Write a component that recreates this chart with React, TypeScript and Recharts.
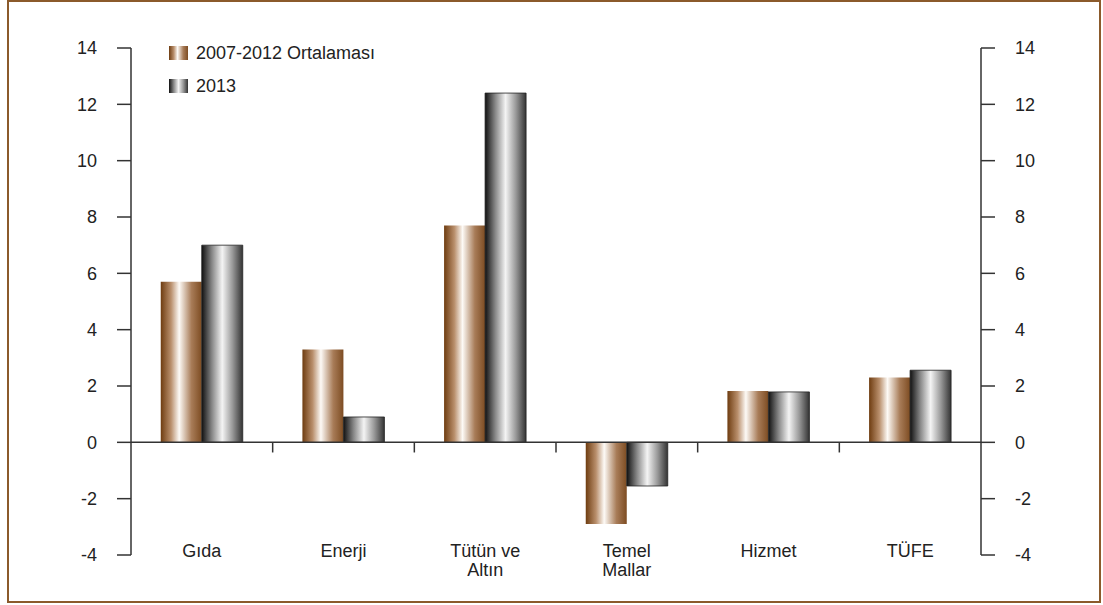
import type { FC } from 'react';
import { BarChart, Bar, XAxis, YAxis, ReferenceLine } from 'recharts';

const categories = ['Gıda', 'Enerji', 'Tütün ve\nAltın', 'Temel\nMallar', 'Hizmet', 'TÜFE'];
const avg2007to2012 = [5.7, 3.3, 7.7, -2.9, 1.82, 2.3];
const values2013 = [7.0, 0.9, 12.4, -1.55, 1.79, 2.56];
const yTicks = [-4, -2, 0, 2, 4, 6, 8, 10, 12, 14];

const seriesNames = ['2007-2012 Ortalaması', '2013'];

const data = categories.map((name, i) => ({
  name,
  avg: avg2007to2012[i],
  y2013: values2013[i],
}));

const FONT = '"Liberation Sans", Arial, sans-serif';
const AXIS = '#333';

interface TickProps {
  x?: number;
  y?: number;
  payload?: { value: string };
}

const CategoryTick: FC<TickProps> = ({ x = 0, y = 0, payload }) => {
  const lines = String(payload?.value ?? '').split('\n');
  return (
    <text x={x} y={y} textAnchor="middle" fontSize={18} fill="#222" fontFamily={FONT}>
      {lines.map((l, i) => (
        <tspan key={i} x={x} dy={i === 0 ? 2 : 19}>
          {l}
        </tspan>
      ))}
    </text>
  );
};

const LegendBox: FC = () => (
  <div
    style={{
      position: 'absolute',
      left: 169,
      top: 42,
      fontFamily: FONT,
      fontSize: 18,
      color: '#222',
      lineHeight: '22px',
    }}
  >
    {seriesNames.map((s, i) => (
      <div key={s} style={{ display: 'flex', alignItems: 'center', marginBottom: 11 }}>
        <span
          style={{
            display: 'inline-block',
            width: 19,
            height: 14,
            marginRight: 8,
            background:
              i === 0
                ? 'linear-gradient(to right, #6e3c10 0%, #b98f6c 25%, #fdfaf6 45%, #a87c58 75%, #7d4c22 100%)'
                : 'linear-gradient(to right, #111 0%, #888 25%, #f4f4f4 50%, #999 75%, #333 100%)',
          }}
        />
        {s}
      </div>
    ))}
  </div>
);

const App: FC = () => {
  return (
    <div style={{ position: 'absolute', left: 0, top: 0, width: 1103, height: 605, background: '#fff' }}>
      <div
        style={{
          position: 'absolute',
          left: 7,
          top: 0,
          width: 1094,
          height: 603,
          border: '2px solid #8b5a2b',
          boxSizing: 'border-box',
        }}
      />
      <div style={{ position: 'absolute', left: 0, top: 0 }}>
        <BarChart
          width={1103}
          height={605}
          data={data}
          margin={{ top: 48, right: 62, bottom: 0, left: 71 }}
          barGap={0}
          barCategoryGap="21%"
        >
          <defs>
            <linearGradient id="brownGrad" x1="0" y1="0" x2="1" y2="0">
              <stop offset="0%" stopColor="#6e3c10" />
              <stop offset="25%" stopColor="#b98f6c" />
              <stop offset="45%" stopColor="#fdfaf6" />
              <stop offset="75%" stopColor="#a87c58" />
              <stop offset="100%" stopColor="#7d4c22" />
            </linearGradient>
            <linearGradient id="grayGrad" x1="0" y1="0" x2="1" y2="0">
              <stop offset="0%" stopColor="#111" />
              <stop offset="25%" stopColor="#888" />
              <stop offset="50%" stopColor="#f4f4f4" />
              <stop offset="75%" stopColor="#999" />
              <stop offset="100%" stopColor="#333" />
            </linearGradient>
          </defs>
          <XAxis
            xAxisId="cat"
            dataKey="name"
            height={50}
            axisLine={false}
            tickLine={false}
            tickSize={0}
            tickMargin={0}
            interval={0}
            tick={<CategoryTick />}
          />
          <YAxis
            yAxisId="left"
            orientation="left"
            width={60}
            domain={[-4, 14]}
            ticks={yTicks}
            interval={0}
            allowDataOverflow
            tickSize={14}
            tickMargin={20}
            axisLine={{ stroke: AXIS, strokeWidth: 1.5 }}
            tickLine={{ stroke: AXIS, strokeWidth: 1.5 }}
            tick={{ fill: '#222', fontSize: 18, fontFamily: FONT }}
          />
          <YAxis
            yAxisId="right"
            orientation="right"
            width={60}
            domain={[-4, 14]}
            ticks={yTicks}
            interval={0}
            allowDataOverflow
            tickSize={14}
            tickMargin={20}
            axisLine={{ stroke: AXIS, strokeWidth: 1.5 }}
            tickLine={{ stroke: AXIS, strokeWidth: 1.5 }}
            tick={{ fill: '#222', fontSize: 18, fontFamily: FONT, textAnchor: 'start' }}
          />
          <Bar
            xAxisId="cat"
            yAxisId="left"
            dataKey="avg"
            name={seriesNames[0]}
            fill="url(#brownGrad)"
            isAnimationActive={false}
          />
          <Bar
            xAxisId="cat"
            yAxisId="left"
            dataKey="y2013"
            name={seriesNames[1]}
            fill="url(#grayGrad)"
            stroke="#222"
            strokeWidth={0.8}
            isAnimationActive={false}
          />
          <ReferenceLine xAxisId="cat" yAxisId="left" y={0} stroke={AXIS} strokeWidth={1.5} />
          {categories.slice(0, -1).map((c) => (
            <ReferenceLine
              key={c}
              xAxisId="cat"
              yAxisId="left"
              position="end"
              segment={[
                { x: c, y: 0 },
                { x: c, y: -0.36 },
              ]}
              stroke={AXIS}
              strokeWidth={1.5}
            />
          ))}
        </BarChart>
      </div>
      <LegendBox />
    </div>
  );
};

export default App;
